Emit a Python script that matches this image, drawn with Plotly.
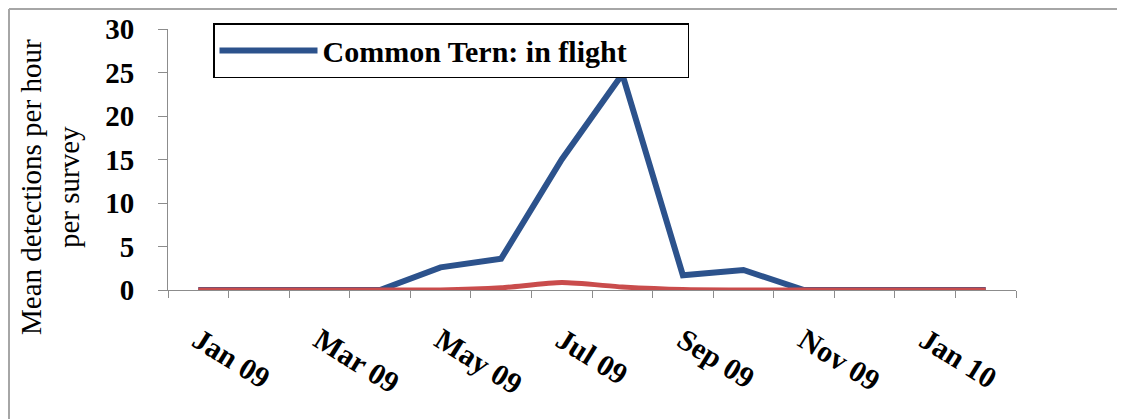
import plotly.graph_objects as go

months = ["Jan 09", "Feb 09", "Mar 09", "Apr 09", "May 09", "Jun 09", "Jul 09",
          "Aug 09", "Sep 09", "Oct 09", "Nov 09", "Dec 09", "Jan 10", "Feb 10"]
tern_in_flight = [0, 0, 0, 0, 2.6, 3.6, 15.0, 24.8, 1.7, 2.3, 0, 0, 0, 0]
tern_other = [0, 0, 0, 0, 0, 0.25, 0.85, 0.35, 0.05, 0, 0, 0, 0, 0]
y_ticks = [0, 5, 10, 15, 20, 25, 30]

idx = list(range(len(months)))
label_idx = idx[::2]
label_text = [months[i] for i in label_idx]
boundaries = [i - 0.5 for i in idx] + [idx[-1] + 0.5]

# the page body adds an 8px offset; figure coordinates = page - 8
W, H = 1117, 411
L, R, T, B = 160, 109, 21, 129
pw, ph = W - L - R, H - T - B


def px_x(px):
    return (px - L) / pw


def px_y(py):
    return (H - B - py) / ph


SERIF = "Liberation Serif, Times New Roman, serif"

fig = go.Figure()
fig.add_trace(go.Scatter(
    x=idx, y=tern_in_flight, mode="lines", name="Common Tern: in flight",
    line=dict(color="#2C528C", width=6),
))
fig.add_trace(go.Scatter(
    x=idx, y=tern_other, mode="lines", name="Common Tern: other",
    line=dict(color="#C94C4C", width=5, shape="spline", smoothing=0.6),
    showlegend=False,
))

fig.update_layout(
    width=W, height=H,
    margin=dict(l=L, r=R, t=T, b=B, autoexpand=False),
    paper_bgcolor="white", plot_bgcolor="white",
    font=dict(family=SERIF, color="black"),
    legend=dict(
        x=px_x(205), y=px_y(15), xanchor="left", yanchor="top",
        orientation="h", entrywidth=360,
        bordercolor="black", borderwidth=1.5, bgcolor="white",
        font=dict(family=SERIF, size=30, color="black", weight="bold"),
        itemwidth=98,
    ),
    xaxis=dict(
        automargin=False,
        range=[-0.5, idx[-1] + 0.5],
        tickmode="array", tickvals=label_idx, ticktext=label_text,
        ticks="", tickangle=32,
        tickfont=dict(family=SERIF, size=30, weight="bold"),
        ticklabelstandoff=20,
        showline=True, linecolor="#8c8c8c", linewidth=1,
        showgrid=False, zeroline=False,
        minor=dict(tickmode="array", tickvals=boundaries, ticks="outside",
                   ticklen=7, tickcolor="#8c8c8c", tickwidth=1, showgrid=False),
    ),
    yaxis=dict(
        automargin=False,
        range=[0, 30], tickmode="array", tickvals=y_ticks,
        ticks="outside", ticklen=9, tickcolor="#8c8c8c",
        tickfont=dict(family=SERIF, size=29, weight="bold"),
        ticklabelstandoff=18,
        showline=True, linecolor="#8c8c8c", linewidth=1,
        showgrid=False, zeroline=False,
    ),
    annotations=[dict(
        text="Mean detections per hour<br>per survey",
        x=px_x(42), y=px_y(179), xref="paper", yref="paper",
        xanchor="center", yanchor="middle", textangle=-90,
        showarrow=False, font=dict(family=SERIF, size=29, color="black"),
    )],
    shapes=[
        dict(type="line", xref="paper", yref="paper",
             x0=px_x(1), x1=px_x(W + 5), y0=px_y(1), y1=px_y(1),
             line=dict(color="#a6a6a6", width=2)),
        dict(type="line", xref="paper", yref="paper",
             x0=px_x(1), x1=px_x(1), y0=px_y(1), y1=px_y(H + 5),
             line=dict(color="#a6a6a6", width=2)),
    ],
)

fig.write_html("out.html")
